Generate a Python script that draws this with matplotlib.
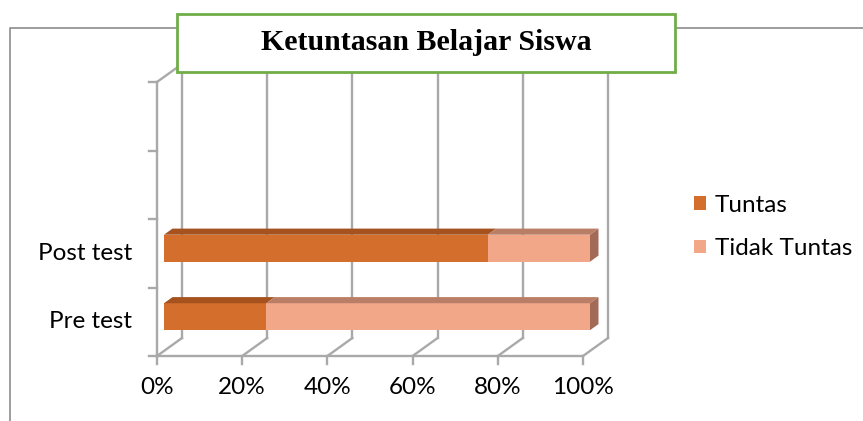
import matplotlib.pyplot as plt
from matplotlib.patches import Polygon, Rectangle, Patch
from matplotlib.lines import Line2D

# data
categories = ["Pre test", "Post test", "", ""]
tuntas = [24, 76]
tidak_tuntas = [76, 24]
x_ticks = [0, 20, 40, 60, 80, 100]
x_labels = ["0%", "20%", "40%", "60%", "80%", "100%"]
series_names = ["Tuntas", "Tidak Tuntas"]

# colours (front face, top face)
c_tuntas = ("#D36E2C", "#A5521F")
c_tidak = ("#F2A789", "#BA7E67")
c_end = "#A36A58"
grid_c = "#A9A9A9"

W, H = 863, 421
fig = plt.figure(figsize=(W / 100, H / 100), dpi=100)
fig.patch.set_facecolor("white")

# front plane of the 3d box in pixels: x 157..583, y 82..356
ax = fig.add_axes([157 / W, (H - 356) / H, 426 / W, 274 / H])
ax.set_xlim(0, 100)
ax.set_ylim(0, len(categories))
ax.axis("off")

# oblique depth offset (full depth) in data units
DX = 25 / 426 * 100
DY = 18 / 274 * len(categories)


def pt(x, y, d):
    return (x + d * DX, y + d * DY)


ytop = len(categories)
# back wall gridlines and floor lines
for t in x_ticks:
    ax.add_line(Line2D(*zip(pt(t, 0, 1), pt(t, ytop, 1)), color=grid_c, lw=1.7, zorder=1, clip_on=False))
    ax.add_line(Line2D(*zip(pt(t, 0, 0), pt(t, 0, 1)), color=grid_c, lw=1.7, zorder=1, clip_on=False))
# left wall: front vertical + top diagonal
ax.add_line(Line2D([0, 0], [0, ytop], color=grid_c, lw=1.7, zorder=1, clip_on=False))
ax.add_line(Line2D(*zip(pt(0, ytop, 0), pt(0, ytop, 1)), color=grid_c, lw=1.7, zorder=1, clip_on=False))
# bottom axis
ax.add_line(Line2D([0, 100], [0, 0], color=grid_c, lw=1.7, zorder=1, clip_on=False))

# tick marks
tick_x = 8 / 426 * 100
tick_y = 8 / 274 * len(categories)
for t in x_ticks:
    ax.add_line(Line2D([t, t], [0, -tick_y], color=grid_c, lw=1.7, clip_on=False))
for i in range(len(categories) + 1):
    ax.add_line(Line2D([-tick_x, 0], [i, i], color=grid_c, lw=1.7, clip_on=False))

# tick labels
font = "Lato"
fs = 17.5
for t, lab in zip(x_ticks, x_labels):
    ax.text(t, -32 / 274 * len(categories), lab, ha="center", va="center", fontsize=fs, family=font)
for i, lab in enumerate(categories):
    ax.text(-25 / 426 * 100, i + 0.5, lab, ha="right", va="center", fontsize=fs, family=font)

# bars
half = 0.197
d0, d1 = 0.28, 0.62
for i in range(len(tuntas)):
    yc = i + 0.5
    segs = [(0, tuntas[i], c_tuntas), (tuntas[i], tuntas[i] + tidak_tuntas[i], c_tidak)]
    for l, r, (cf, ct) in segs:
        front = [pt(l, yc - half, d0), pt(r, yc - half, d0), pt(r, yc + half, d0), pt(l, yc + half, d0)]
        top = [pt(l, yc + half, d0), pt(r, yc + half, d0), pt(r, yc + half, d1), pt(l, yc + half, d1)]
        ax.add_patch(Polygon(front, closed=True, fc=cf, ec="none", zorder=3, clip_on=False))
        ax.add_patch(Polygon(top, closed=True, fc=ct, ec="none", zorder=3, clip_on=False))
    r = tuntas[i] + tidak_tuntas[i]
    end = [pt(r, yc - half, d0), pt(r, yc - half, d1), pt(r, yc + half, d1), pt(r, yc + half, d0)]
    ax.add_patch(Polygon(end, closed=True, fc=c_end, ec="none", zorder=3, clip_on=False))

# legend
handles = [Patch(fc=c_tuntas[0], ec="none"), Patch(fc=c_tidak[0], ec="none")]
fig.legend(handles, series_names, loc="center left", bbox_to_anchor=(672 / W, 1 - 227 / H),
           frameon=False, prop={"family": font, "size": fs}, handlelength=0.5, handleheight=0.5,
           handletextpad=0.35, labelspacing=0.92)

# outer chart border
fig.add_artist(Line2D([10 / W, 10 / W, 1], [0, 1 - 28 / H, 1 - 28 / H], color="#8C8C8C", lw=1.2))

# title box
fig.add_artist(Rectangle((177 / W, 1 - 72 / H), 498 / W, 58 / H, transform=fig.transFigure,
                         fc="white", ec="#70AD47", lw=2, zorder=5))
fig.text(426 / W, 1 - 43 / H, "Ketuntasan Belajar Siswa", ha="center", va="center",
         fontsize=21.5, fontweight="bold", family="Liberation Serif", zorder=6)

fig.savefig("out.png", dpi=100)
